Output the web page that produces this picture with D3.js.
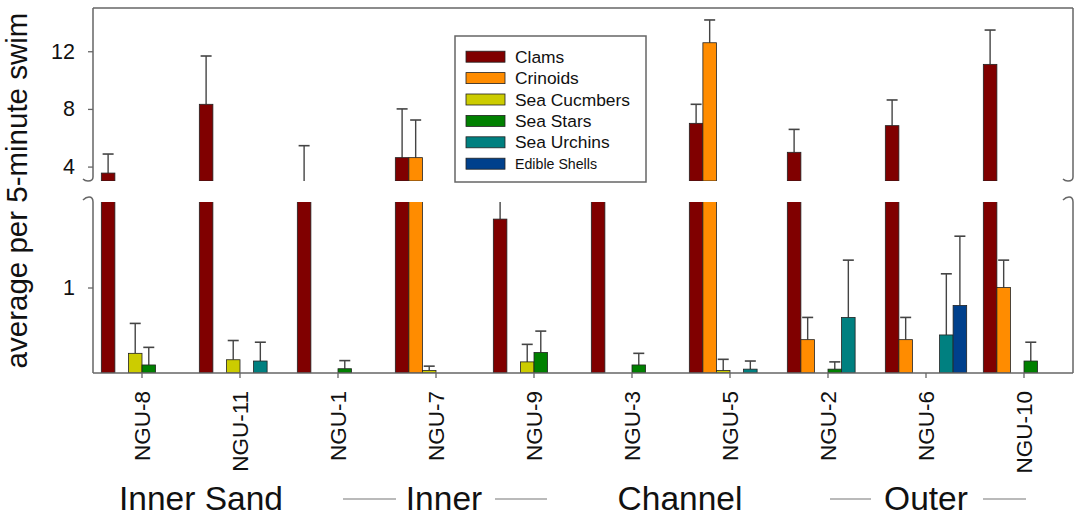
<!DOCTYPE html>
<html>
<head>
<meta charset="utf-8">
<script src="https://cdn.jsdelivr.net/npm/d3@7"></script>
<style>
  body { margin: 0; background: #fff; }
  svg { font-family: Arial, "Liberation Sans", sans-serif; }
</style>
</head>
<body>
<svg width="1079" height="516"></svg>
<script>
const sites = ['NGU-8', 'NGU-11', 'NGU-1', 'NGU-7', 'NGU-9', 'NGU-3', 'NGU-5', 'NGU-2', 'NGU-6', 'NGU-10']
const seriesNames = ['Clams', 'Crinoids', 'Sea Cucmbers', 'Sea Stars', 'Sea Urchins', 'Edible Shells']
const seriesColors = ['#800000', '#ff8c00', '#cccc00', '#008000', '#008080', '#00408c']

// means per site, in site order
const clams = [3.55, 8.32, 2.6, 4.62, 1.8, 2.6, 7.0, 4.99, 6.84, 11.09]
const crinoids = [0, 0, 0, 4.62, 0, 0, 12.59, 0.39, 0.39, 1.0]
const cucumbers = [0.23, 0.155, 0, 0.03, 0.13, 0, 0.03, 0, 0, 0]
const stars = [0.094, 0, 0.05, 0, 0.24, 0.094, 0, 0.045, 0, 0.14]
const urchins = [0, 0.14, 0, 0, 0, 0, 0.045, 0.65, 0.445, 0]
const shells = [0, 0, 0, 0, 0, 0, 0, 0, 0.79, 0]

// upper error (one-sided)
const clamsErr = [1.32, 3.35, 2.85, 3.38, 0.8, 0.3, 1.32, 1.59, 1.78, 2.38]
const crinoidsErr = [0, 0, 0, 2.61, 0, 0, 1.58, 0.26, 0.26, 0.32]
const cucumbersErr = [0.35, 0.225, 0, 0.05, 0.205, 0, 0.13, 0, 0, 0]
const starsErr = [0.206, 0, 0.095, 0, 0.25, 0.136, 0, 0.085, 0, 0.22]
const urchinsErr = [0, 0.22, 0, 0, 0, 0, 0.095, 0.67, 0.715, 0]
const shellsErr = [0, 0, 0, 0, 0, 0, 0, 0, 0.81, 0]

const upperTicks = [4, 8, 12]
const lowerTicks = [1]
const zoneNames = ['Inner Sand', 'Inner', 'Channel', 'Outer']

const means = [clams, crinoids, cucumbers, stars, urchins, shells]
const errs = [clamsErr, crinoidsErr, cucumbersErr, starsErr, urchinsErr, shellsErr]

const left = 93, right = 1073
const upperTop = 8, upperBottom = 181
const lowerTop = 202, lowerBottom = 373
const frameColor = '#666'

const svg = d3.select('svg')

const x = d3.scaleBand().domain(sites).range([left, right]).paddingInner(0.17).paddingOuter(0.085)
const xs = d3.scaleBand().domain(seriesNames).range([0, x.bandwidth()])
const yUpper = d3.scaleLinear().domain([3, 15]).range([upperBottom, upperTop])
const yLower = d3.scaleLinear().domain([0, 2]).range([lowerBottom, lowerTop])

const bars = []
sites.forEach((site, i) => {
  seriesNames.forEach((name, j) => {
    if (means[j][i] > 0) bars.push({ site, name, color: seriesColors[j], v: means[j][i], e: errs[j][i] })
  })
})

const defs = svg.append('defs')
const panels = [
  { id: 'clip-upper', y: yUpper, top: upperTop, bottom: upperBottom },
  { id: 'clip-lower', y: yLower, top: lowerTop, bottom: lowerBottom },
]

panels.forEach(p => {
  defs.append('clipPath').attr('id', p.id)
    .append('rect')
    .attr('x', left).attr('y', p.top)
    .attr('width', right - left).attr('height', p.bottom - p.top)

  const g = svg.append('g').attr('clip-path', `url(#${p.id})`)
  const base = p.y.domain()[0]

  // error bars first, bars on top
  const eb = g.selectAll('g.err').data(bars.filter(d => d.e > 0)).join('g').classed('err', true)
    .attr('transform', d => `translate(${x(d.site) + xs(d.name) + xs.bandwidth() / 2},0)`)
  eb.append('line')
    .attr('y1', d => p.y(d.v)).attr('y2', d => p.y(d.v + d.e))
    .attr('stroke', '#444').attr('stroke-width', 1.4)
  eb.append('line')
    .attr('x1', -5.5).attr('x2', 5.5)
    .attr('y1', d => p.y(d.v + d.e)).attr('y2', d => p.y(d.v + d.e))
    .attr('stroke', '#444').attr('stroke-width', 1.6)

  g.selectAll('rect.bar').data(bars).join('rect').classed('bar', true)
    .attr('x', d => x(d.site) + xs(d.name))
    .attr('width', xs.bandwidth())
    .attr('y', d => p.y(d.v))
    .attr('height', d => p.y(base) - p.y(d.v))
    .attr('fill', d => d.color)
    .attr('stroke', '#222').attr('stroke-width', 0.8)
})

// frame with break marks
const hookUp = xx => `M${xx},${upperTop} V${upperBottom - 4} q0,4 -5,4 q-3,0 -5,-2`
const hookDown = xx => `M${xx - 10},${lowerTop - 2} q3,-3 6,-3 q4,0 4,5 V${lowerBottom}`
const frame = svg.append('g').attr('fill', 'none').attr('stroke', frameColor).attr('stroke-width', 1.5)
frame.append('path').attr('d', hookUp(left))
frame.append('path').attr('d', hookUp(right))
frame.append('path').attr('d', hookDown(left))
frame.append('path').attr('d', hookDown(right))
frame.append('line').attr('x1', left).attr('x2', right).attr('y1', upperTop).attr('y2', upperTop)
frame.append('line').attr('x1', left).attr('x2', right).attr('y1', lowerBottom).attr('y2', lowerBottom)

// y axes
const styleAxis = (g, size) => {
  g.select('.domain').remove()
  g.selectAll('.tick line').attr('stroke', frameColor).attr('stroke-width', 1.3)
  g.selectAll('.tick text').attr('font-size', size).attr('fill', '#111')
    .attr('font-family', 'Arial, "Liberation Sans", sans-serif')
}
svg.append('g').attr('transform', `translate(${left},0)`)
  .call(d3.axisLeft(yUpper).tickValues(upperTicks).tickFormat(d3.format('d')).tickSize(5).tickPadding(13))
  .call(g => styleAxis(g, 21.5))
svg.append('g').attr('transform', `translate(${left},0)`)
  .call(d3.axisLeft(yLower).tickValues(lowerTicks).tickFormat(d3.format('d')).tickSize(5).tickPadding(13))
  .call(g => styleAxis(g, 21.5))

// x axis
const xAxis = svg.append('g').attr('transform', `translate(0,${lowerBottom})`)
  .call(d3.axisBottom(x).tickSize(5).tickPadding(0))
xAxis.select('.domain').remove()
xAxis.selectAll('.tick line').attr('stroke', frameColor).attr('stroke-width', 1.3)
xAxis.selectAll('.tick text')
  .attr('font-size', 22.5).attr('fill', '#111')
  .attr('font-family', 'Arial, "Liberation Sans", sans-serif')
  .attr('text-anchor', 'end')
  .attr('transform', 'translate(0,18) rotate(-90)')
  .attr('x', 0).attr('y', 0).attr('dy', '0.35em')

// y title
svg.append('text')
  .attr('transform', `translate(27,${(upperTop + lowerBottom) / 2}) rotate(-90)`)
  .attr('text-anchor', 'middle')
  .attr('font-size', 29.5).attr('fill', '#111')
  .text('average per 5-minute swim')

// zone labels along the bottom
const zoneCenters = [201, 444, 680, 926]
const zoneLines = [[343, 396], [495, 547], [830, 871], [983, 1026]]
svg.append('g').selectAll('text').data(zoneNames).join('text')
  .attr('x', (d, i) => zoneCenters[i]).attr('y', 510)
  .attr('text-anchor', 'middle')
  .attr('font-size', 33.5).attr('fill', '#111')
  .text(d => d)
svg.append('g').selectAll('line').data(zoneLines).join('line')
  .attr('x1', d => d[0]).attr('x2', d => d[1])
  .attr('y1', 499).attr('y2', 499)
  .attr('stroke', '#777').attr('stroke-width', 1.2)

// legend
const legend = svg.append('g').attr('transform', 'translate(455,36)')
legend.append('rect')
  .attr('width', 191).attr('height', 146)
  .attr('fill', '#fff').attr('stroke', frameColor).attr('stroke-width', 1.5)
const rows = legend.selectAll('g.row').data(seriesNames).join('g').classed('row', true)
  .attr('transform', (d, i) => `translate(0,${20.7 + i * 21.4})`)
rows.append('rect')
  .attr('x', 11).attr('y', -5.5).attr('width', 39).attr('height', 11)
  .attr('fill', (d, i) => seriesColors[i]).attr('stroke', '#222').attr('stroke-width', 0.8)
rows.append('text')
  .attr('x', 60).attr('dy', '0.35em')
  .attr('font-size', d => d === 'Edible Shells' ? 14.2 : 17.4)
  .attr('fill', '#111')
  .text(d => d)
</script>
</body>
</html>
